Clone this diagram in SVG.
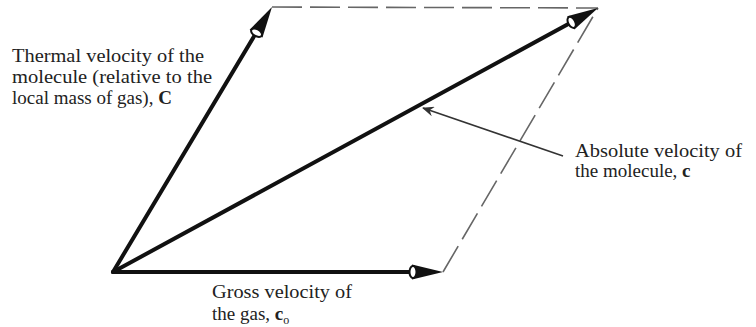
<svg xmlns="http://www.w3.org/2000/svg" width="756" height="327" viewBox="0 0 756 327">
  <style>
    .vec { stroke: #111; stroke-width: 4; fill: none; stroke-linecap: round; }
    .dash { stroke: #666; stroke-width: 1.6; fill: none; stroke-dasharray: 30 8; }
    .ptr { stroke: #333; stroke-width: 1.6; fill: none; }
    .lbl { font-family: "Liberation Serif", "Times New Roman", serif; font-size: 19px; fill: #222; }
    .b { font-weight: bold; }
  </style>
  <defs>
    <g id="head">
      <polygon points="0,0 -31,-7.5 -31,7.5" fill="#111"/>
      <ellipse cx="-30" cy="0" rx="3.5" ry="6" fill="#fff" stroke="#111" stroke-width="2"/>
    </g>
    <marker id="ptrhead" viewBox="0 0 12 10" refX="11" refY="5" markerWidth="12" markerHeight="10" markerUnits="userSpaceOnUse" orient="auto">
      <path d="M12,5 L0,0 L4,5 L0,10 Z" fill="#333"/>
    </marker>
  </defs>

  <g id="connectors">
    <line class="dash" x1="272" y1="7" x2="598" y2="8"/>
    <line class="dash" x1="443" y1="272" x2="598" y2="8"/>
    <line class="vec" x1="113" y1="272" x2="414" y2="272"/>
    <line class="vec" x1="113" y1="272" x2="256" y2="33"/>
    <line class="vec" x1="113" y1="272" x2="572" y2="22"/>
    <use href="#head" transform="translate(443,272)"/>
    <use href="#head" transform="translate(272,7) rotate(-59.04)"/>
    <use href="#head" transform="translate(598,8) rotate(-28.56)"/>
    <line class="ptr" x1="563" y1="156" x2="423" y2="108" marker-end="url(#ptrhead)"/>
  </g>

  <g id="thermal-label">
    <text class="lbl" x="12" y="62" textLength="192" lengthAdjust="spacingAndGlyphs">Thermal velocity of the</text>
    <text class="lbl" x="12" y="83" textLength="200" lengthAdjust="spacingAndGlyphs">molecule (relative to the</text>
    <text class="lbl" x="12" y="104">local mass of gas), <tspan class="b">C</tspan></text>
  </g>

  <g id="absolute-label">
    <text class="lbl" x="575" y="157" textLength="167" lengthAdjust="spacingAndGlyphs">Absolute velocity of</text>
    <text class="lbl" x="575" y="177">the molecule, <tspan class="b">c</tspan></text>
  </g>

  <g id="gross-label">
    <text class="lbl" x="212" y="298" textLength="140" lengthAdjust="spacingAndGlyphs">Gross velocity of</text>
    <text class="lbl" x="212" y="320">the gas, <tspan class="b">c</tspan><tspan font-size="12" dy="4">o</tspan></text>
  </g>
</svg>
